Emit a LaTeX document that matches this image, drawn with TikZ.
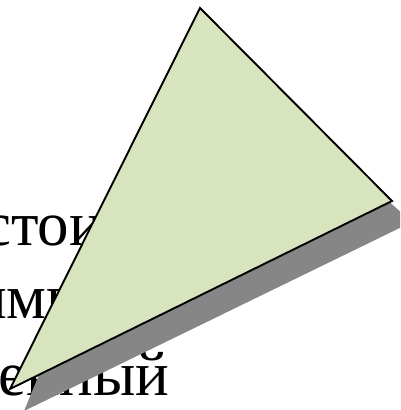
\documentclass[tikz,border=0pt]{standalone}
\usepackage{fontspec}
\setmainfont{Liberation Serif}
\definecolor{trifill}{HTML}{D7E4BD}
\definecolor{shadowgray}{HTML}{868686}
\tikzset{
  bgtext/.style={anchor=base west, inner sep=0pt, font=\fontsize{63}{63}\selectfont},
  tri/.style={draw=black, line width=1.9pt, fill=trifill, line join=miter},
  shad/.style={fill=shadowgray, draw=none}
}
\begin{document}
\begin{tikzpicture}[x=1pt,y=-1pt]
\useasboundingbox (0,0) rectangle (400,410);
\begin{scope}
\clip (0,0) rectangle (400,410);
\node[bgtext] (t1) at (-17,245) {стои};
\node[bgtext] (t2) at (-27,318) {имн};
\node[bgtext] (t3) at (-2,395) {енный};
\coordinate (sc) at (24,411);
\coordinate (sd) at (70,300);
\coordinate (sa) at (230,45);
\coordinate (se) at (386,199);
\coordinate (sb) at (412,222);
\fill[shad] (sc) -- (sd) -- (sa) -- (se) -- (sb) -- cycle;
\coordinate (a) at (200,8);
\coordinate (b) at (392,201);
\coordinate (c) at (10,389);
\draw[tri] (a) -- (b) -- (c) -- cycle;
\end{scope}
\end{tikzpicture}
\end{document}
